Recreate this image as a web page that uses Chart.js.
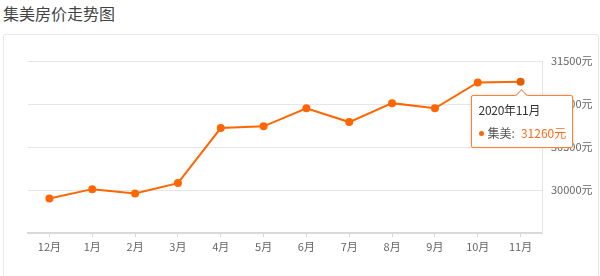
<!DOCTYPE html>
<html lang="zh-CN">
<head>
<meta charset="UTF-8">
<title>集美房价走势图</title>
<script src="https://cdn.jsdelivr.net/npm/chart.js"></script>
<style>
    body { margin: 0; background: #fff; font-family: "Noto Sans CJK SC", sans-serif; }
    .janela { position: relative; width: 600px; height: 276px; overflow: hidden; }
    .titulo { position: absolute; left: 3px; top: 1px; font-size: 16px; color: #444; }
    .cartao { position: absolute; left: 3px; top: 34px; width: 594px; height: 260px;
              border: 1px solid #e8e8e8; border-radius: 3px; }
    #grafico { position: absolute; left: 0; top: 0; }
    #dica { position: absolute; background: #fff; border: 1px solid #f5843c; border-radius: 2px;
            box-shadow: 0 0 3px rgba(245,132,60,0.35); font-size: 12px; color: #333; width: 85px;
            padding: 5px 8px 6px 7px; white-space: nowrap; pointer-events: none; opacity: 0; }
    #dica:before { content: ""; position: absolute; left: 45px; top: -5px; width: 8px; height: 8px;
            background: #fff; border-left: 1px solid #f5843c; border-top: 1px solid #f5843c;
            transform: rotate(45deg); }
    #dica .titulo2 { letter-spacing: -0.3px; }
    #dica .linha2 { margin-top: 6px; color: #555; }
    #dica .ponto { display: inline-block; width: 5px; height: 5px; border-radius: 3px;
            background: #ff6600; margin-right: 4px; vertical-align: 2px; }
    #dica .valor { color: #ff6a1a; margin-left: 6px; }
</style>
</head>
<body>
<div class="janela">
    <div class="titulo">集美房价走势图</div>
    <div class="cartao"></div>
    <canvas id="grafico" width="600" height="276"></canvas>
    <div id="dica"></div>
</div>

<script>
    const meses = ["12月", "1月", "2月", "3月", "4月", "5月", "6月", "7月", "8月", "9月", "10月", "11月"];
    const anos = [2019, 2020, 2020, 2020, 2020, 2020, 2020, 2020, 2020, 2020, 2020, 2020];
    const precos = [29900, 30010, 29960, 30080, 30720, 30740, 30950, 30790, 31010, 30950, 31250, 31260];
    const serie = "集美";
    const yMin = 29500, yMax = 31500, yPasso = 500;

    const laranja = "#ff6600";
    const fonte = "'Noto Sans CJK SC', sans-serif";

    function dicaExterna(context) {
        const dica = document.getElementById("dica");
        const tt = context.tooltip;
        if (tt.opacity === 0) { dica.style.opacity = 0; return; }
        const i = tt.dataPoints[0].dataIndex;
        dica.innerHTML =
            '<div class="titulo2">' + anos[i] + '年' + meses[i] + '</div>' +
            '<div class="linha2"><span class="ponto"></span>' + serie + ':' +
            '<span class="valor">' + precos[i] + '元</span></div>';
        const canvas = context.chart.canvas;
        const w = dica.offsetWidth;
        dica.style.left = (canvas.offsetLeft + tt.caretX - w / 2 + 1) + "px";
        dica.style.top = (canvas.offsetTop + tt.caretY + 13) + "px";
        dica.style.opacity = 1;
    }

    const grafico = new Chart(document.getElementById("grafico"), {
        type: "line",
        data: {
            labels: meses,
            datasets: [{
                label: serie,
                data: precos,
                borderColor: laranja,
                backgroundColor: laranja,
                borderWidth: 2,
                pointRadius: 4,
                pointHoverRadius: 4,
                pointBorderWidth: 0,
                pointHoverBorderWidth: 0,
                tension: 0
            }]
        },
        options: {
            responsive: false,
            animation: false,
            events: [],
            layout: { padding: { left: 28, top: 61, right: 0, bottom: 0 } },
            plugins: {
                legend: { display: false },
                tooltip: { enabled: false, external: dicaExterna }
            },
            scales: {
                x: {
                    offset: true,
                    grid: { drawOnChartArea: false, offset: false, tickLength: 4, color: "#d9d9d9" },
                    border: { color: "#d9d9d9", width: 2 },
                    ticks: { color: "#666", font: { family: fonte, size: 11 }, padding: 3 },
                    afterFit: function (s) { s.height = 43; }
                },
                y: {
                    position: "right",
                    min: yMin,
                    max: yMax,
                    grid: { color: "#e6e6e6", drawTicks: false },
                    border: { color: "#e3e3e3", width: 1 },
                    ticks: {
                        stepSize: yPasso,
                        color: "#666",
                        padding: 9,
                        font: { family: fonte, size: 11 },
                        callback: function (v) { return v === yMin ? "" : v + "元"; }
                    },
                    afterFit: function (s) { s.width = 58; }
                }
            }
        }
    });

    grafico.setActiveElements([{ datasetIndex: 0, index: 11 }]);
    grafico.tooltip.setActiveElements([{ datasetIndex: 0, index: 11 }], { x: 0, y: 0 });
    grafico.update();
</script>
</body>
</html>
